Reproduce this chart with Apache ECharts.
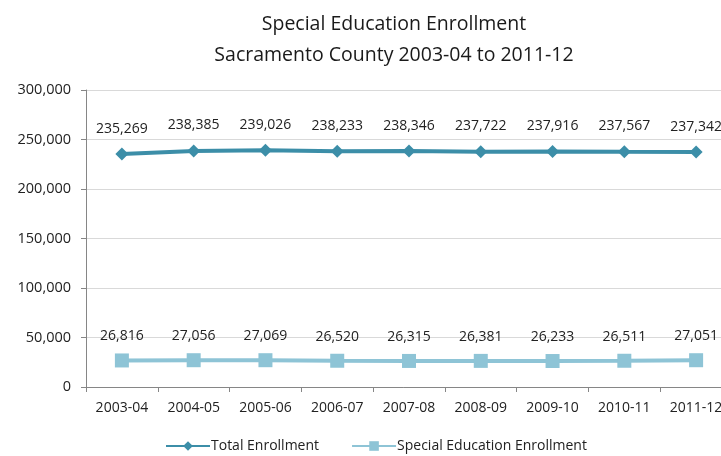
<!DOCTYPE html>
<html><head><meta charset="utf-8">
<script src="https://cdn.jsdelivr.net/npm/echarts@6/dist/echarts.min.js"></script>
<style>html,body{margin:0;padding:0;background:#fff}#c{width:721px;height:456px}</style>
</head><body><div id="c"></div>
<script>
const categories = ['2003-04','2004-05','2005-06','2006-07','2007-08','2008-09','2009-10','2010-11','2011-12'];
const totalEnrollment = [235269,238385,239026,238233,238346,237722,237916,237567,237342];
const specialEdEnrollment = [26816,27056,27069,26520,26315,26381,26233,26511,27051];
const yTicks = [0,50000,100000,150000,200000,250000,300000];

const font = 'Open Sans';
const fmt = v => v.toLocaleString('en-US');
const chart = echarts.init(document.getElementById('c'));
chart.setOption({
  animation: false,
  title: {
    text: 'Special Education Enrollment\nSacramento County 2003-04 to 2011-12',
    left: 389, top: 4, textAlign: 'center',
    textStyle: {fontFamily: font, fontSize: 19.5, fontWeight: 'normal', color: '#1a1a1a', lineHeight: 31}
  },
  legend: {
    top: 434, left: 160, itemGap: 32, itemWidth: 44, itemHeight: 12,
    textStyle: {fontFamily: font, fontSize: 14, color: '#222', padding: [0,0,0,-4]},
    data: ['Total Enrollment','Special Education Enrollment']
  },
  grid: {left: 86, width: 646, top: 90, height: 297, containLabel: false, outerBoundsMode: 'none'},
  xAxis: {
    type: 'category', data: categories, boundaryGap: true,
    axisLine: {lineStyle: {color: '#868686'}},
    axisTick: {show: true, length: 5, lineStyle: {color: '#868686'}},
    axisLabel: {fontFamily: font, fontSize: 14, color: '#222', margin: 14}
  },
  yAxis: {
    type: 'value', min: yTicks[0], max: yTicks[yTicks.length-1], interval: 50000,
    axisLine: {show: true, lineStyle: {color: '#868686'}},
    axisTick: {show: true, length: 5, lineStyle: {color: '#868686'}},
    splitLine: {lineStyle: {color: '#d9d9d9'}},
    axisLabel: {fontFamily: font, fontSize: 14.5, color: '#222', margin: 15, formatter: v => fmt(v)}
  },
  series: [
    {
      name: 'Total Enrollment', type: 'line', data: totalEnrollment,
      symbol: 'diamond', symbolSize: 13,
      itemStyle: {color: '#3c8ea8'}, lineStyle: {width: 4, color: '#3c8ea8'},
      label: {show: true, position: 'top', distance: 12, fontFamily: font, fontSize: 14, color: '#222', formatter: p => fmt(p.value)}
    },
    {
      name: 'Special Education Enrollment', type: 'line', data: specialEdEnrollment,
      symbol: 'rect', symbolSize: 14,
      itemStyle: {color: '#8ec4d6'}, lineStyle: {width: 4, color: '#8ec4d6'},
      label: {show: true, position: 'top', distance: 10, fontFamily: font, fontSize: 14, color: '#222', formatter: p => fmt(p.value)}
    }
  ]
});
</script></body></html>
